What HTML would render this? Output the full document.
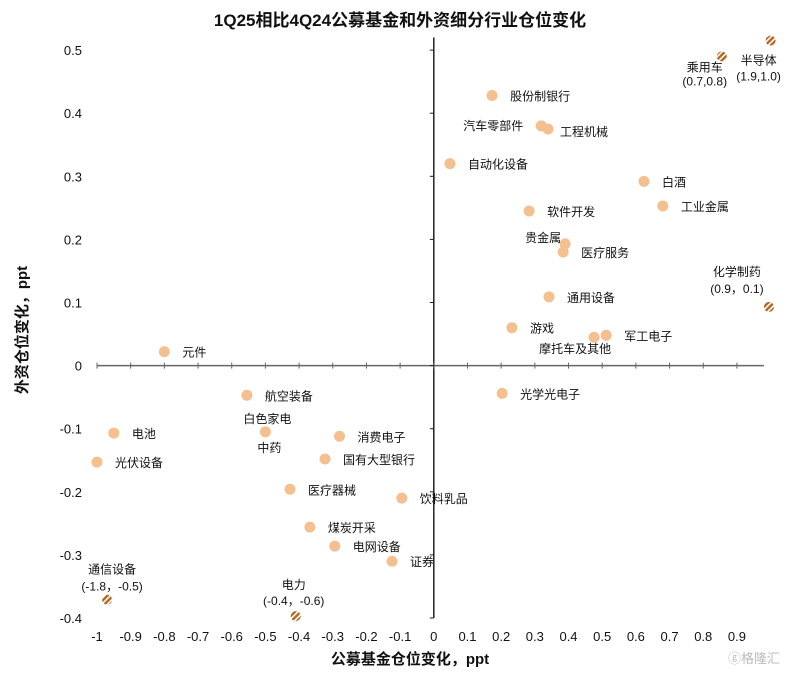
<!DOCTYPE html>
<html><head><meta charset="utf-8"><style>
body{margin:0;background:#fff}
svg text{font-family:"Liberation Sans","Noto Sans CJK SC",sans-serif;fill:#111}
</style></head><body>
<svg id="c" width="803" height="675" xmlns="http://www.w3.org/2000/svg">
<defs><pattern id="stripe" width="4" height="4" patternUnits="userSpaceOnUse" patternTransform="rotate(45)"><rect width="4" height="4" fill="#fff"/><rect width="2.4" height="4" fill="#b5651d"/></pattern></defs>
<text x="400" y="26" text-anchor="middle" font-size="17" font-weight="bold">1Q25相比4Q24公募基金和外资细分行业仓位变化</text>
<g id="axes"></g><g id="pts"></g>
<text x="410" y="664" text-anchor="middle" font-size="15" font-weight="bold">公募基金仓位变化，ppt</text>
<text transform="translate(27,330) rotate(-90)" text-anchor="middle" font-size="15" font-weight="bold">外资仓位变化，ppt</text>
<text x="728" y="663" font-size="13" fill="#bbb" style="fill:#bbb">ⓖ格隆汇</text>
</svg>
<script>
const xTicks=[-1,-0.9,-0.8,-0.7,-0.6,-0.5,-0.4,-0.3,-0.2,-0.1,0,0.1,0.2,0.3,0.4,0.5,0.6,0.7,0.8,0.9];
const yTicks=[-0.4,-0.3,-0.2,-0.1,0,0.1,0.2,0.3,0.4,0.5];
const names=["元件","航空装备","白色家电","电池","光伏设备","消费电子","国有大型银行","医疗器械","饮料乳品","煤炭开采","电网设备","证券","光学光电子","游戏","军工电子","摩托车及其他","通用设备","贵金属","医疗服务","软件开发","白酒","工业金属","自动化设备","汽车零部件","工程机械","股份制银行"];
const xVals=[-0.80,-0.555,-0.50,-0.95,-1.0,-0.28,-0.323,-0.427,-0.095,-0.368,-0.294,-0.124,0.203,0.232,0.512,0.476,0.342,0.39,0.384,0.283,0.624,0.68,0.048,0.319,0.339,0.173];
const yVals=[0.022,-0.047,-0.105,-0.107,-0.153,-0.112,-0.148,-0.196,-0.21,-0.256,-0.286,-0.31,-0.044,0.06,0.048,0.045,0.109,0.193,0.18,0.245,0.292,0.253,0.32,0.38,0.375,0.428];
const outNames=["乘用车","半导体","化学制药","通信设备","电力"];
const outVals=["(0.7,0.8)","(1.9,1.0)","(0.9，0.1)","(-1.8，-0.5)","(-0.4，-0.6)"];
const outX=[0.855,1.0,0.995,-0.97,-0.41];
const outY=[0.49,0.515,0.093,-0.371,-0.397];
const X=v=>433.8+v*336.8, Y=v=>365.6-v*631;
const NS="http://www.w3.org/2000/svg";
function mk(p,t,a){const e=document.createElementNS(NS,t);for(const k in a)e.setAttribute(k,a[k]);p.appendChild(e);return e;}
const ax=document.getElementById('axes'),pg=document.getElementById('pts');
let l=mk(ax,'line',{x1:X(-1),x2:X(0.98),y1:Y(0),y2:Y(0),stroke:'#666','stroke-width':1.5});

l=mk(ax,'line',{x1:X(0),x2:X(0),y1:Y(-0.4),y2:Y(0.52),stroke:'#222','stroke-width':1.5});

xTicks.forEach(v=>{
 mk(ax,'line',{x1:X(v),x2:X(v),y1:Y(0)-3,y2:Y(0)+3,stroke:'#666'});
 const t=mk(ax,'text',{x:X(v),y:641,'text-anchor':'middle','font-size':13});t.textContent=String(v);
 
});
yTicks.forEach(v=>{
 mk(ax,'line',{x1:X(0)-4,x2:X(0),y1:Y(v),y2:Y(v),stroke:'#222'});
 const t=mk(ax,'text',{x:82,y:Y(v)+5,'text-anchor':'end','font-size':13});t.textContent=String(v);
 
});
const lblOff={"白色家电":[-22,-9,'start'],"医疗服务":[18,5,'start'],"贵金属":[-40,-2,'start'],"摩托车及其他":[-55,16,'start'],"汽车零部件":[-78,4,'start'],"工程机械":[12,7,'start']};
names.forEach((n,i)=>{
 const c=mk(pg,'circle',{cx:X(xVals[i]),cy:Y(yVals[i]),r:5.5,fill:'#f5c08f'});
 
 const o=lblOff[n]||[18,5,'start'];
 const t=mk(pg,'text',{x:X(xVals[i])+o[0],y:Y(yVals[i])+o[1],'font-size':12,'text-anchor':o[2]});t.textContent=n;
 
 if(n==="白色家电"){const t2=mk(pg,'text',{x:X(xVals[i])-8,y:Y(yVals[i])+20,'font-size':12});t2.textContent="中药";
 }
});
const outLbl=[[-17,15,29],[-12,24,40],[-32,-31,-14],[5,-26,-9],[-2,-27,-11]];
outNames.forEach((n,i)=>{
 const cx=X(outX[i]),cy=Y(outY[i]);
 const c=mk(pg,'circle',{cx:cx,cy:cy,r:5,fill:'url(#stripe)'});
 
 const t=mk(pg,'text',{x:cx+outLbl[i][0],y:cy+outLbl[i][1],'font-size':12,'text-anchor':'middle'});t.textContent=n;
 
 const t2=mk(pg,'text',{x:cx+outLbl[i][0],y:cy+outLbl[i][2],'font-size':12,'text-anchor':'middle'});t2.textContent=outVals[i];
 
});
</script>
</body></html>
